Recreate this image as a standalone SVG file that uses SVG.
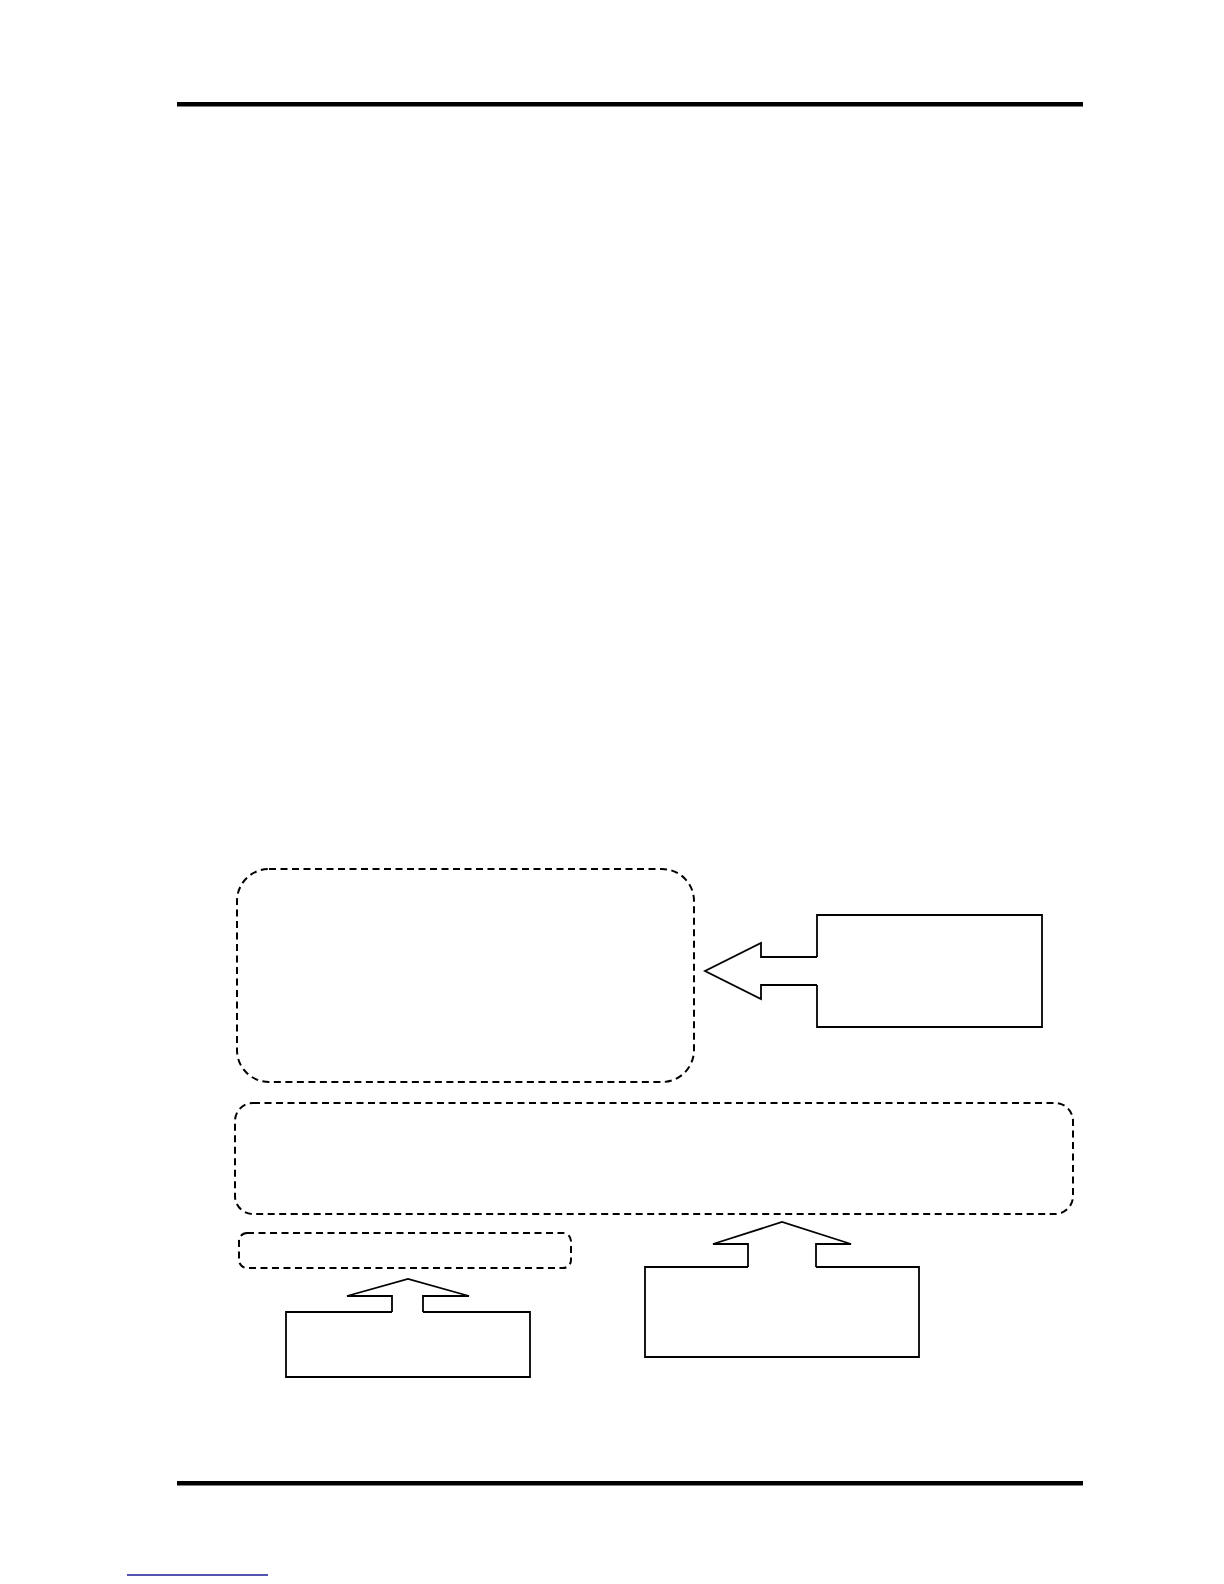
<svg xmlns="http://www.w3.org/2000/svg" width="1224" height="1584" viewBox="0 0 1224 1584">
<style>
.rule{fill:#000;stroke:none}
.dash{fill:none;stroke:#000;stroke-width:2;stroke-dasharray:7 4.5}
.solid{fill:none;stroke:#000;stroke-width:1.8;stroke-linejoin:miter}
.link{fill:none;stroke:#1a1a99;stroke-width:1.3}
</style>
<rect width="1224" height="1584" fill="#fff"/>
<g id="header-rule"><rect class="rule" x="177" y="102" width="906" height="4.5"/></g>
<g id="footer-rule"><rect class="rule" x="177" y="1481" width="906" height="4.5"/></g>
<g id="footer-link"><line class="link" x1="127" y1="1575" x2="268" y2="1575"/></g>
<g id="box-top-left"><rect class="dash" x="237" y="869" width="457" height="213" rx="32" ry="32"/></g>
<g id="box-wide"><rect class="dash" x="235" y="1103" width="838" height="111" rx="18" ry="18"/></g>
<g id="box-small"><rect class="dash" x="239" y="1233" width="332" height="35" rx="8" ry="8"/></g>
<g id="node-right"><path class="solid" d="M817,957 V915 H1042 V1027 H817 V985"/></g>
<g id="node-bottom-left"><path class="solid" d="M392,1312 H286 V1377 H530 V1312 H423"/></g>
<g id="node-bottom-right"><path class="solid" d="M748,1267 H645 V1357 H919 V1267 H816"/></g>
<g id="connectors">
<path class="solid" d="M817,957 H761 V943 L705,971 L761,999 V985 H817"/>
<path class="solid" d="M392,1312 V1296 H347 L408,1279 L469,1296 H423 V1312"/>
<path class="solid" d="M748,1267 V1244 H713 L782,1222 L851,1244 H816 V1267"/>
</g>
</svg>
